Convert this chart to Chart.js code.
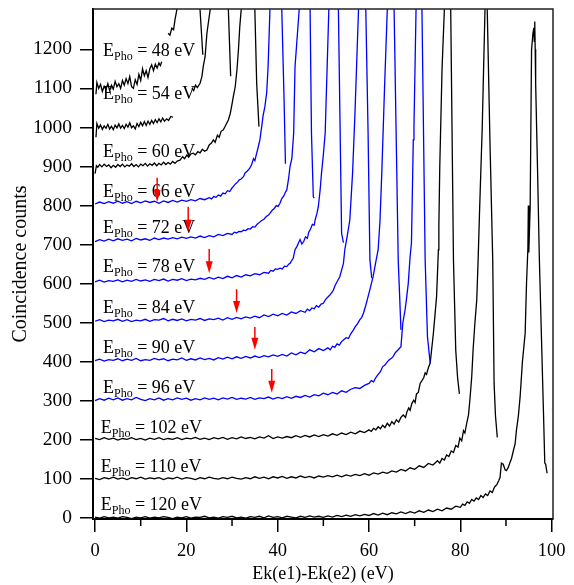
<!DOCTYPE html>
<html><head><meta charset="utf-8">
<script src="https://cdn.jsdelivr.net/npm/chart.js@4/dist/chart.umd.min.js"></script>
<style>html,body{margin:0;padding:0;background:#fff}canvas{display:block}</style>
</head><body>
<canvas id="c" width="574" height="585"></canvas>
<script>
// ---- data (x = Ek(e1)-Ek(e2) in eV, y = coincidence counts incl. vertical offset) ----
const photonEnergies = [48, 54, 60, 66, 72, 78, 84, 90, 96, 102, 110, 120];
const xTicks = [0, 20, 40, 60, 80, 100];
const xMinorTicks = [10, 30, 50, 70, 90];
const yTicks = [0, 100, 200, 300, 400, 500, 600, 700, 800, 900, 1000, 1100, 1200];

const c48 = [[0.2,1085],[0.4,1115],[0.8,1100],[1.2,1110],[1.6,1092],[2,1105],[2.4,1097],[2.8,1112],[3.2,1094],[3.6,1108],[4,1098],[4.4,1118],[4.8,1104],[5.2,1112],[5.6,1100],[6,1120],[6.4,1108],[6.8,1125],[7.2,1112],[7.6,1130],[8,1104],[8.4,1100],[8.8,1122],[9.2,1110],[9.6,1136],[10,1120],[10.4,1150],[10.8,1132],[11.2,1145],[11.6,1128],[12,1150],[12.4,1160],[12.8,1145],[13.2,1162],[13.6,1152],[14,1165],[14.3,1158],[14.6,1168],[15.2,null],[16,1241],[16.4,1236],[16.8,1254],[17.2,1250],[17.5,1275],[17.9,1300],[20.45,1480],[23,1300],[23.6,1186]];
const c54 = [[0.2,975],[0.4,1010],[0.8,998],[1.2,1006],[1.6,995],[2,1004],[2.4,998],[2.8,1008],[3.2,996],[3.6,1003],[4,994],[4.4,1006],[4.8,999],[5.2,1009],[5.6,998],[6,1005],[6.4,997],[6.8,1008],[7.2,1001],[7.6,1012],[8,999],[8.4,1004],[8.8,996],[9.2,1010],[9.6,1002],[10,1013],[10.4,1004],[10.8,1015],[11.2,1005],[11.6,1016],[12,1008],[12.4,1018],[12.8,1010],[13.2,1020],[13.6,1012],[14,1022],[14.4,1014],[14.8,1024],[15.2,1016],[15.7,1022],[16.1,1018],[16.6,1028],[17.1,1026],[19,null],[21.2,1100],[21.6,1094],[22,1108],[22.4,1102],[23,1113],[23.4,1130],[23.7,1156],[24.1,1181],[24.5,1241],[25.2,1300],[27.2,1480],[29.2,1300],[29.7,1131]];
const c60 = [[0,882],[0.3,902],[0.6,898],[1,905],[1.5,899],[2,906],[2.5,900],[3,904],[3.5,897],[4,903],[4.5,898],[5,905],[5.5,900],[6,906],[6.5,899],[7,904],[7.5,901],[8,907],[8.5,900],[9,905],[9.5,899],[10,906],[10.5,902],[11,908],[11.5,901],[12,907],[12.5,903],[13,909],[13.5,902],[14,908],[14.5,904],[15,911],[15.5,905],[16,910],[16.5,906],[17,913],[17.5,908],[18,914],[18.6,916],[19.2,925],[19.6,920],[20.1,929],[20.5,924],[21,932],[21.5,934],[22,930],[22.5,938],[23,935],[23.5,944],[24,939],[24.5,942],[25,955],[25.5,960],[25.9,968],[26.3,962],[26.8,980],[27.2,975],[27.6,990],[28.1,994],[28.5,1003],[28.8,1010],[29.2,1019],[29.6,1035],[29.9,1053],[30.3,1080],[30.7,1104],[31.1,1150],[31.4,1198],[31.7,1258],[32,1300],[33.5,1480],[35,1300],[35.4,1113],[35.9,1002]];
const c66 = [[0,804],[1,809],[2,805],[3,810],[4,806],[5,811],[6,806],[7,810],[8,805],[9,811],[10,807],[11,812],[12,808],[13,811],[14,806],[15,812],[16,808],[17,813],[18,809],[19,814],[20,811],[21,815],[22,812],[23,818],[24,815],[25,820],[25.5,817],[26,823],[26.5,821],[27,827],[27.5,824],[28,832],[28.5,830],[29,838],[29.5,836],[30,845],[30.3,849],[30.8,856],[31.2,860],[31.6,866],[32,868],[32.5,874],[32.9,884],[33.3,888],[33.9,896],[34.3,905],[34.7,920],[35,915],[35.4,934],[35.7,948],[36.1,968],[36.5,1002],[36.8,1030],[37.2,1053],[37.6,1090],[37.9,1156],[38.3,1300],[39.6,1480],[40.9,1300],[41.4,1070],[41.7,907]];
const c72 = [[0,708],[1,713],[2,709],[3,714],[4,710],[5,715],[6,711],[7,714],[8,710],[9,716],[10,712],[11,715],[12,711],[13,717],[14,713],[15,717],[16,714],[17,718],[18,715],[19,719],[20,716],[21,720],[22,717],[23,722],[24,718],[25,723],[26,720],[27,726],[28,723],[29,729],[30,726],[30.5,732],[31,730],[31.5,734],[32,733],[32.5,737],[33,736],[33.5,741],[34,740],[34.5,746],[35,745],[35.5,752],[36,757],[36.5,762],[37,765],[37.5,772],[38,776],[38.3,780],[38.8,788],[39.2,792],[39.7,800],[40.1,798],[40.5,806],[40.9,818],[41.3,824],[41.7,834],[42,840],[42.4,870],[42.7,900],[43.1,920],[43.5,985],[43.8,1156],[44.7,1300],[45.9,1480],[47.1,1300],[47.4,985],[47.8,823],[48,819]];
const c78 = [[0,605],[1,609],[2,604],[3,608],[4,606],[5,610],[6,605],[7,609],[8,606],[9,611],[10,607],[11,610],[12,606],[13,611],[14,608],[15,612],[16,607],[17,611],[18,609],[19,613],[20,608],[21,612],[22,610],[23,614],[24,611],[25,616],[26,612],[27,617],[28,613],[29,619],[30,615],[31,621],[32,617],[33,623],[34,620],[35,626],[36,623],[37,629],[38,627],[38.5,634],[39,632],[39.5,638],[40,637],[40.5,640],[41,638],[41.5,645],[42,644],[42.4,650],[42.7,652],[43.1,660],[43.4,665],[43.8,687],[44.2,695],[44.5,703],[44.9,713],[45.3,702],[45.7,708],[46.1,720],[46.5,716],[46.8,732],[47.2,740],[47.6,752],[48,750],[48.2,763],[48.6,780],[48.9,797],[49.3,840],[49.6,883],[50,930],[50.4,985],[51.2,1300],[52.25,1480],[53.3,1300],[54,729],[54.4,705]];
const c84 = [[0,504],[1,508],[2,503],[3,507],[4,505],[5,509],[6,504],[7,508],[8,503],[9,507],[10,505],[11,509],[12,504],[13,508],[14,507],[15,511],[16,505],[17,509],[18,506],[19,510],[20,505],[21,509],[22,507],[23,511],[24,506],[25,510],[26,508],[27,512],[28,507],[29,513],[30,509],[31,514],[32,510],[33,515],[34,512],[35,517],[36,513],[37,520],[38,516],[39,522],[40,518],[41,524],[42,520],[43,528],[44,524],[45,531],[46,527],[46.5,535],[47,531],[47.5,538],[48,536],[48.5,544],[49,540],[49.5,548],[50,550],[50.5,560],[51,566],[51.5,572],[52,580],[52.2,584],[52.6,596],[53,605],[53.6,618],[54,635],[54.4,652],[54.7,687],[55.2,720],[55.8,763],[56.4,883],[56.9,1028],[57.7,1300],[58.5,1480],[59.3,1300],[59.8,985],[60.2,661],[60.6,614]];
const c90 = [[0,403],[1,407],[2,402],[3,406],[4,404],[5,408],[6,403],[7,407],[8,404],[9,409],[10,403],[11,406],[12,404],[13,409],[14,405],[15,408],[16,403],[17,407],[18,405],[19,410],[20,404],[21,408],[22,405],[23,410],[24,406],[25,409],[26,405],[27,411],[28,407],[29,412],[30,408],[31,413],[32,409],[33,414],[34,410],[35,415],[36,411],[37,416],[38,413],[39,418],[40,414],[41,419],[42,415],[43,423],[44,418],[45,425],[46,421],[47,431],[48,426],[49,434],[50,429],[51,436],[51.5,431],[52,440],[52.5,437],[53,446],[53.5,443],[54,452],[54.4,456],[55,462],[55.5,460],[56,472],[56.6,482],[57,490],[57.5,498],[58,508],[58.4,514],[58.8,525],[59.3,545],[59.8,567],[60.3,590],[60.9,618],[61.4,650],[62,687],[62.4,760],[62.8,883],[63.4,1100],[64,1300],[64.75,1480],[65.5,1300],[66.4,661],[67,482]];
const c96 = [[0,301],[1,306],[2,302],[3,307],[4,303],[5,308],[6,302],[7,306],[8,303],[9,309],[10,304],[11,301],[12,306],[13,303],[14,308],[15,302],[16,306],[17,303],[18,308],[19,304],[20,307],[21,302],[22,306],[23,303],[24,308],[25,304],[26,307],[27,303],[28,308],[29,305],[30,309],[31,304],[32,307],[33,305],[34,309],[35,304],[36,308],[37,306],[38,310],[39,305],[40,309],[41,306],[42,311],[43,307],[44,312],[45,309],[46,314],[47,310],[48,316],[49,313],[50,320],[51,316],[52,322],[53,318],[54,326],[55,322],[56,330],[57,334],[58,332],[59,340],[60,345],[60.5,352],[61,349],[61.5,360],[62,368],[62.5,375],[63,388],[63.5,392],[64,400],[64.5,406],[65,410],[65.3,414],[65.8,424],[66.4,431],[67,439],[67.4,499],[67.9,533],[68.2,560],[68.6,601],[69,669],[69.3,705],[69.7,968],[69.85,1002],[70.3,1300],[70.95,1480],[71.6,1300],[72.3,661],[72.8,465],[73.4,397]];
const c102 = [[0,204],[1,201],[2,206],[3,202],[4,205],[5,200],[6,204],[7,202],[8,206],[9,201],[10,204],[11,200],[12,205],[13,202],[14,206],[15,201],[16,204],[17,202],[18,206],[19,201],[20,205],[21,203],[22,207],[23,202],[24,205],[25,201],[26,206],[27,203],[28,207],[29,202],[30,206],[31,203],[32,208],[33,204],[34,207],[35,203],[36,208],[37,205],[38,211],[39,204],[40,208],[41,205],[42,209],[43,206],[44,211],[45,207],[46,212],[47,208],[48,213],[49,209],[50,214],[51,210],[52,216],[53,212],[54,218],[55,214],[56,220],[57,216],[58,223],[59,219],[60,226],[60.5,222],[61,230],[61.5,226],[62,234],[62.5,229],[63,238],[63.5,232],[64,243],[64.5,236],[65,247],[65.5,241],[66,252],[66.5,246],[67,258],[67.5,264],[68,258],[68.3,272],[68.7,282],[69,276],[69.4,294],[69.8,302],[70.1,296],[70.4,318],[70.8,322],[71.2,345],[71.6,352],[72,360],[72.3,372],[72.6,368],[73,385],[73.4,397],[74.1,473],[74.8,567],[75.2,687],[75.3,746],[75.5,900],[76,1150],[76.5,1300],[77.2,1480],[77.9,1300],[78.5,661],[79,430],[79.4,360],[79.8,318]];
const c110 = [[0,102],[1,99],[2,104],[3,101],[4,105],[5,100],[6,103],[7,99],[8,104],[9,101],[10,105],[11,100],[12,103],[13,101],[14,104],[15,99],[16,103],[17,101],[18,105],[19,100],[20,104],[21,102],[22,99],[23,104],[24,101],[25,105],[26,102],[27,100],[28,104],[29,101],[30,105],[31,102],[32,100],[33,104],[34,101],[35,106],[36,102],[37,105],[38,101],[39,106],[40,103],[41,107],[42,102],[43,106],[44,103],[45,108],[46,104],[47,107],[48,103],[49,108],[50,105],[51,109],[52,106],[53,110],[54,106],[55,111],[56,108],[57,112],[58,109],[59,114],[60,110],[61,116],[62,113],[63,118],[64,115],[65,121],[66,118],[67,125],[68,121],[69,129],[70,125],[71,134],[72,130],[73,140],[74,136],[75,147],[75.5,141],[76,153],[76.5,149],[77,162],[77.5,158],[78,172],[78.5,168],[79,186],[79.5,182],[79.9,205],[80.3,198],[80.7,224],[81,218],[81.4,243],[81.8,265],[82.1,303],[82.5,362],[82.8,431],[83.2,500],[83.6,559],[83.9,661],[84.2,780],[84.8,1000],[85.4,1300],[85.65,1480],[85.9,1300],[86.5,960],[87.1,661],[87.4,345],[87.7,262],[88.1,207]];
const c120 = [[0,3],[1,0],[2,4],[3,1],[4,3],[5,0],[6,4],[7,2],[8,-1],[9,3],[10,1],[11,4],[12,0],[13,3],[14,1],[15,4],[16,2],[17,-1],[18,3],[19,1],[20,4],[21,0],[22,3],[23,2],[24,5],[25,1],[26,3],[27,0],[28,4],[29,2],[30,5],[31,1],[32,3],[33,0],[34,4],[35,2],[36,5],[37,1],[38,6],[39,2],[40,4],[41,1],[42,5],[43,3],[44,1],[45,5],[46,2],[47,6],[48,3],[49,5],[50,2],[51,6],[52,3],[53,7],[54,4],[55,8],[56,5],[57,9],[58,6],[59,10],[60,7],[61,12],[62,8],[63,13],[64,9],[65,14],[66,11],[67,16],[68,12],[69,17],[70,13],[71,19],[72,15],[73,21],[74,17],[75,23],[76,19],[77,26],[78,23],[79,31],[80,28],[80.5,36],[81,33],[81.5,42],[82,38],[82.5,48],[83,44],[83.5,52],[84,48],[84.5,58],[85,53],[85.5,62],[86,58],[86.5,70],[87,66],[87.5,80],[88,86],[88.4,96],[88.7,104],[89,141],[89.4,138],[89.8,124],[90.1,122],[90.5,130],[90.8,140],[91.2,152],[91.6,172],[92,190],[92.3,226],[92.7,260],[93.1,311],[93.6,400],[94.2,473],[94.5,601],[94.8,690],[94.9,800],[95,680],[95.3,797],[95.6,1198],[95.9,1240],[96.1,1255],[96.2,1220],[96.3,1271],[96.4,1200],[96.5,1113],[96.9,900],[97.3,669],[97.8,450],[98.2,277],[98.5,141],[98.7,138],[99,115]];

// label anchors (data units) and red arrow markers (data units)
const labelX = [1.75, 1.75, 1.75, 1.75, 1.75, 1.75, 1.75, 1.75, 1.75, 1.25, 1.25, 1.25];
const labelY = [1183, 1072, 925, 823, 729, 631, 525, 422, 320, 219, 119, 21];
const arrowX = [13.6, 20.4, 25.0, 31.0, 35.0, 38.7];
const arrowTop = [871, 797, 689, 586, 489, 382];
const arrowTip = [809, 733, 627, 525, 431, 321];

const series = [c48, c54, c60, c66, c72, c78, c84, c90, c96, c102, c110, c120];
const seriesColor = ['#000000','#000000','#000000','#0000ff','#0000ff','#0000ff','#0000ff','#0000ff','#0000ff','#000000','#000000','#000000'];

const FONT = '"Liberation Serif", "Times New Roman", Times, serif';

const overlay = {
  id: 'overlay',
  afterDatasetsDraw(chart) {
    const {ctx, scales: {x, y}} = chart;
    ctx.save();
    ctx.fillStyle = '#000';
    ctx.textAlign = 'left';
    ctx.textBaseline = 'alphabetic';
    photonEnergies.forEach((e, i) => {
      let px = x.getPixelForValue(labelX[i]);
      const py = y.getPixelForValue(labelY[i]);
      ctx.font = '18px ' + FONT;
      ctx.fillText('E', px, py);
      px += ctx.measureText('E').width;
      ctx.font = '12px ' + FONT;
      ctx.fillText('Pho', px, py + 4);
      px += ctx.measureText('Pho').width;
      ctx.font = '18px ' + FONT;
      ctx.fillText(' = ' + e + ' eV', px, py);
    });
    ctx.strokeStyle = '#ff0000';
    ctx.fillStyle = '#ff0000';
    ctx.lineWidth = 1.5;
    arrowX.forEach((v, i) => {
      const ax = x.getPixelForValue(v);
      const t = y.getPixelForValue(arrowTop[i]);
      const b = y.getPixelForValue(arrowTip[i]);
      ctx.beginPath();
      ctx.moveTo(ax, t);
      ctx.lineTo(ax, b - 10);
      ctx.stroke();
      ctx.beginPath();
      ctx.moveTo(ax - 3.5, b - 12);
      ctx.lineTo(ax + 3.5, b - 12);
      ctx.lineTo(ax, b);
      ctx.closePath();
      ctx.fill();
    });
    ctx.restore();
  },
  afterDraw(chart) {
    const {ctx, chartArea: a, scales: {x}} = chart;
    ctx.save();
    ctx.strokeStyle = '#222';
    ctx.lineWidth = 1.5;
    ctx.beginPath();
    ctx.moveTo(a.left, a.top);
    ctx.lineTo(a.right, a.top);
    ctx.lineTo(a.right, a.bottom);
    ctx.stroke();
    ctx.strokeStyle = '#000';
    ctx.lineWidth = 1.5;
    xMinorTicks.forEach(v => {
      const px = x.getPixelForValue(v);
      ctx.beginPath();
      ctx.moveTo(px, a.bottom);
      ctx.lineTo(px, a.bottom + 7);
      ctx.stroke();
    });
    ctx.restore();
  }
};

new Chart(document.getElementById('c'), {
  type: 'scatter',
  data: {
    datasets: series.map((s, i) => ({
      label: 'E_Pho = ' + photonEnergies[i] + ' eV',
      data: s.map(p => ({x: p[0], y: p[1]})),
      showLine: true,
      borderColor: seriesColor[i],
      backgroundColor: seriesColor[i],
      borderWidth: 1.3,
      pointRadius: 0,
      tension: 0,
      spanGaps: false,
      fill: false
    }))
  },
  options: {
    responsive: false,
    animation: false,
    devicePixelRatio: 1,
    layout: {padding: {left: 0, top: 9, right: 21, bottom: 0}},
    plugins: {legend: {display: false}, tooltip: {enabled: false}},
    scales: {
      x: {
        type: 'linear', min: -0.45, max: 100.3,
        afterBuildTicks: s => { s.ticks = xTicks.map(v => ({value: v})); },
        afterFit: s => { s.height = 66; s.paddingLeft = 0; s.paddingRight = 0; },
        ticks: {font: {family: FONT, size: 18.5}, color: '#000', padding: 8, maxRotation: 0, autoSkip: false, callback: v => String(v)},
        grid: {drawOnChartArea: false, drawTicks: true, tickLength: 13, color: '#000', lineWidth: 1.5},
        border: {display: true, color: '#000', width: 2},
        title: {display: true, text: 'Ek(e1)-Ek(e2) (eV)', font: {family: FONT, size: 18}, color: '#000', padding: {top: 0, bottom: 0}}
      },
      y: {
        type: 'linear', min: -2, max: 1303,
        afterBuildTicks: s => { s.ticks = yTicks.map(v => ({value: v})); },
        afterFit: s => { s.width = 93; s.paddingTop = 0; s.paddingBottom = 0; },
        ticks: {font: {family: FONT, size: 19.5}, color: '#000', padding: 8, autoSkip: false, callback: v => String(v)},
        grid: {drawOnChartArea: false, drawTicks: true, tickLength: 13, color: '#000', lineWidth: 1.5},
        border: {display: true, color: '#000', width: 2},
        title: {display: true, text: 'Coincidence counts', font: {family: FONT, size: 20}, color: '#000', padding: {top: 9, bottom: 0}}
      }
    }
  },
  plugins: [overlay]
});
</script>
</body></html>
